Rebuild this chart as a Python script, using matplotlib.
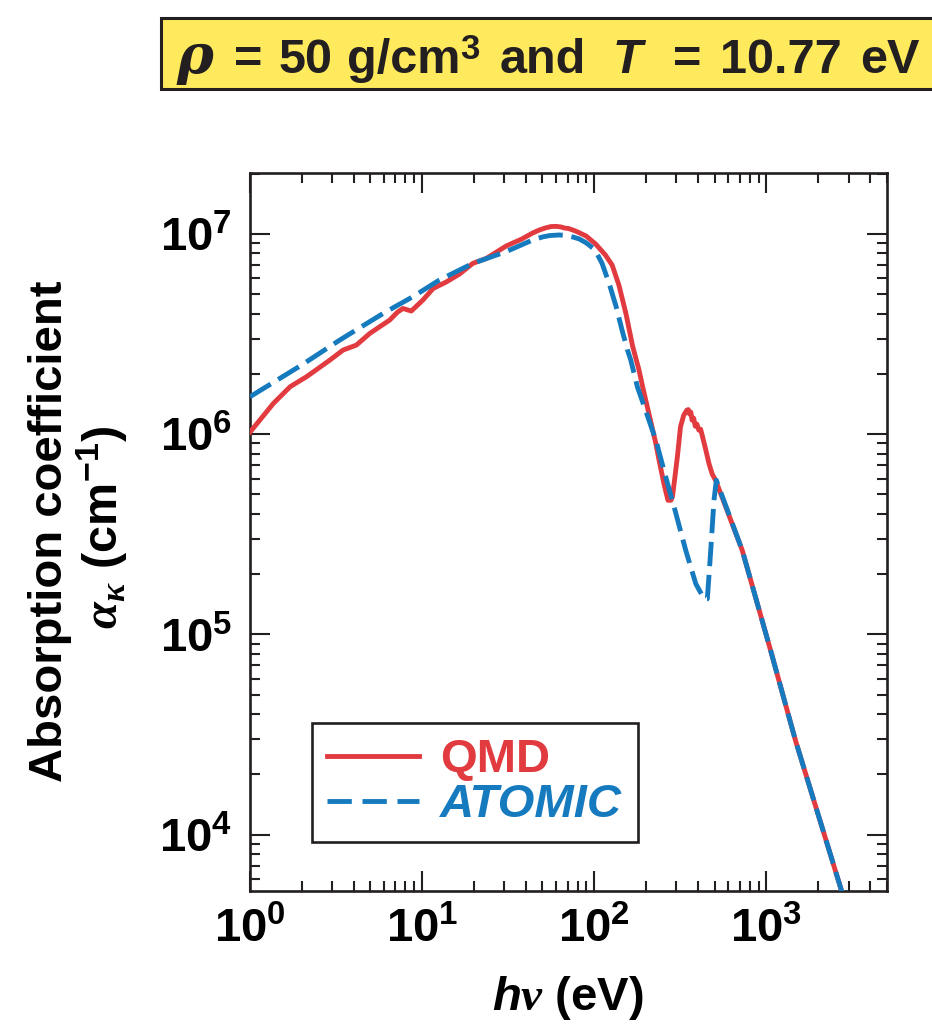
import numpy as np
import matplotlib
matplotlib.use("Agg")
import matplotlib.pyplot as plt
from matplotlib import font_manager as fm
from matplotlib.patches import Rectangle
from matplotlib.lines import Line2D
from matplotlib.ticker import LogLocator, NullFormatter

# ---------------- data ----------------
qmd_energy = [1.0, 1.365, 1.71, 2.13, 2.91, 3.47, 4.15, 4.96, 6.48, 7.2, 7.74, 8.65,
              10.1, 11.6, 13.8, 16.5, 19.7, 23.6, 30.8, 38, 43.9, 48, 52, 56, 60, 64, 67, 71,
              74.9, 80, 89.6, 101.8, 116, 127, 139, 153, 167, 182, 191, 228, 238, 254, 268,
              279, 285, 304, 317, 331, 345, 352, 358, 364, 370, 378, 386, 395, 405, 415,
              425, 445, 465, 485, 507, 724, 1058, 1476, 2754, 3000]
qmd_log_alpha = [6.01, 6.153, 6.237, 6.287, 6.37, 6.42, 6.445, 6.503, 6.57, 6.61, 6.628, 6.615,
                 6.67, 6.728, 6.76, 6.80, 6.853, 6.878, 6.94, 6.975, 7.005, 7.02, 7.03, 7.037, 7.038,
                 7.035, 7.03, 7.027, 7.02, 7.01, 6.99, 6.95, 6.895, 6.845, 6.745, 6.60, 6.44, 6.32,
                 6.237, 5.953, 5.87, 5.753, 5.67, 5.67, 5.69, 5.887, 6.037, 6.095, 6.12, 6.123,
                 6.10, 6.11, 6.07, 6.08, 6.04, 6.05, 6.02, 6.025, 5.99, 5.92, 5.85, 5.80, 5.77,
                 5.42, 4.92, 4.47, 3.71, 3.60]

atomic_energy = [1.0, 2.0, 3.32, 5.93, 8.85, 12.6, 19.7, 30.8, 43.9, 50, 55, 62.7, 68, 75,
                 81.9, 90, 98, 104, 111, 122, 134, 145, 156, 163, 178, 228, 260, 291, 340,
                 389, 434, 454, 475, 496, 512, 724, 1058, 1476, 2754, 3000]
atomic_log_alpha = [6.187, 6.346, 6.47, 6.603, 6.687, 6.77, 6.853, 6.912, 6.97, 6.985, 6.992,
                    6.995, 6.993, 6.985, 6.975, 6.955, 6.93, 6.90, 6.853, 6.753, 6.637, 6.52,
                    6.42, 6.37, 6.237, 5.97, 5.787, 5.637, 5.42, 5.253, 5.178, 5.178, 5.42,
                    5.67, 5.77, 5.42, 4.92, 4.47, 3.71, 3.60]

x_ticks = [1, 10, 100, 1000]
x_ticklabels = [r"$\mathbf{10^{0}}$", r"$\mathbf{10^{1}}$", r"$\mathbf{10^{2}}$", r"$\mathbf{10^{3}}$"]
y_ticks = [1e4, 1e5, 1e6, 1e7]
y_ticklabels = [r"$\mathbf{10^{4}}$", r"$\mathbf{10^{5}}$", r"$\mathbf{10^{6}}$", r"$\mathbf{10^{7}}$"]
series_labels = ["QMD", "ATOMIC"]

# ---------------- styling ----------------
RED = "#E13B40"
BLUE = "#167ABF"
DARK = "#231F20"
YELLOW = "#FEEA5C"

names = {f.name for f in fm.fontManager.ttflist}
NARROW = "Liberation Sans Narrow" if "Liberation Sans Narrow" in names else "Liberation Sans"

plt.rcParams["font.family"] = ["Liberation Sans", "DejaVu Sans"]
plt.rcParams["mathtext.fontset"] = "custom"
plt.rcParams["mathtext.bf"] = f"{NARROW}:bold"
plt.rcParams["mathtext.rm"] = f"{NARROW}:bold"
plt.rcParams["mathtext.sf"] = "Liberation Sans:bold"
plt.rcParams["mathtext.it"] = "Liberation Sans:bold:italic"
plt.rcParams["mathtext.cal"] = "Liberation Serif:italic"
plt.rcParams["mathtext.tt"] = "Liberation Serif:bold:italic"

W, H = 932, 1024
fig = plt.figure(figsize=(W / 100, H / 100), dpi=100)


def fx(x):
    return x / W


def fy(y):
    return 1 - y / H


ax = fig.add_axes([fx(250), fy(890.7), fx(886.7) - fx(250), fy(172.7) - fy(890.7)])

qe = np.array(qmd_energy)
qa = 10 ** np.array(qmd_log_alpha)
ae = np.array(atomic_energy)
aa = 10 ** np.array(atomic_log_alpha)

ax.plot(qe, qa, color=RED, lw=3.5, solid_joinstyle="round", zorder=3)
ax.plot(ae, aa, color=BLUE, lw=3.5, ls=(0, (5, 1.8)), zorder=4)

ax.set_xscale("log")
ax.set_yscale("log")
ax.set_xlim(1, 5000)
ax.set_ylim(10 ** 3.72, 10 ** 7.306)

ax.set_xticks(x_ticks, labels=x_ticklabels)
ax.set_yticks(y_ticks, labels=y_ticklabels)
for axis in (ax.xaxis, ax.yaxis):
    axis.set_minor_locator(LogLocator(base=10, subs=range(2, 10), numticks=50))
    axis.set_minor_formatter(NullFormatter())

ax.tick_params(which="both", direction="in", top=True, right=True, color=DARK, width=1.5)
ax.tick_params(which="major", length=14.5)
ax.tick_params(which="minor", length=7.2)
ax.tick_params(axis="x", which="major", labelsize=34, pad=12)
ax.tick_params(axis="y", which="major", labelsize=34, pad=13)
for s in ax.spines.values():
    s.set_linewidth(1.9)
    s.set_color(DARK)

# axis labels
fig.text(fx(568), fy(1010), r"$\mathit{h}\mathtt{\nu}$ (eV)", fontsize=34, fontweight="bold",
         ha="center", va="baseline", color="black")
fig.text(fx(62), fy(531), "Absorption coefficient", fontsize=34, fontweight="bold",
         rotation=90, rotation_mode="anchor", ha="center", va="baseline", color="black")
fig.text(fx(118), fy(527), r"$\mathtt{\alpha}_{\mathtt{\kappa}}$ (cm$^{\mathsf{-1}}$)", fontsize=35,
         fontweight="bold", rotation=90, rotation_mode="anchor", ha="center", va="baseline", color="black")

# legend
handles = [Line2D([], [], color=RED, lw=3.5),
           Line2D([], [], color=BLUE, lw=3.5, ls=(0, (5, 2.2)))]
leg = ax.legend(handles, series_labels, loc="upper left",
                bbox_to_anchor=((312 - 250) / 636.7, (890.7 - 723) / 718.0),
                frameon=True, fancybox=False, framealpha=1, edgecolor=DARK,
                prop={"family": "Liberation Sans", "weight": "bold", "size": 34},
                handlelength=1.95, handletextpad=0.45, borderpad=0.32, labelspacing=0.02,
                borderaxespad=0)
leg.get_frame().set_linewidth(1.9)
leg.get_texts()[0].set_color(RED)
leg.get_texts()[1].set_color(BLUE)
leg.get_texts()[1].set_fontstyle("italic")

# title box
fig.patches.append(Rectangle((fx(161), fy(89)), 1.0, fy(18) - fy(89), transform=fig.transFigure,
                             facecolor=YELLOW, edgecolor=DARK, lw=2.2, zorder=0))
tkw = dict(fontsize=35, fontweight="bold", va="baseline", ha="left", color=DARK)
fig.text(fx(176), fy(73), "ρ", fontsize=40, fontweight="bold", fontstyle="italic",
         family="DejaVu Serif", va="baseline", ha="left", color=DARK)
fig.text(fx(234), fy(73), "=", **tkw)
fig.text(fx(279), fy(73), "50", **tkw)
fig.text(fx(347), fy(73), "g/cm", **tkw)
fig.text(fx(460), fy(59), "3", fontsize=25, fontweight="bold", va="baseline", ha="left", color=DARK)
fig.text(fx(500), fy(73), "and", **tkw)
fig.text(fx(612), fy(73), r"$\mathit{T}$", **tkw)
fig.text(fx(673), fy(73), "=", **tkw)
fig.text(fx(720), fy(73), "10.77", **tkw)
fig.text(fx(860), fy(73), "eV", **tkw)

fig.savefig("out.png", dpi=100)
